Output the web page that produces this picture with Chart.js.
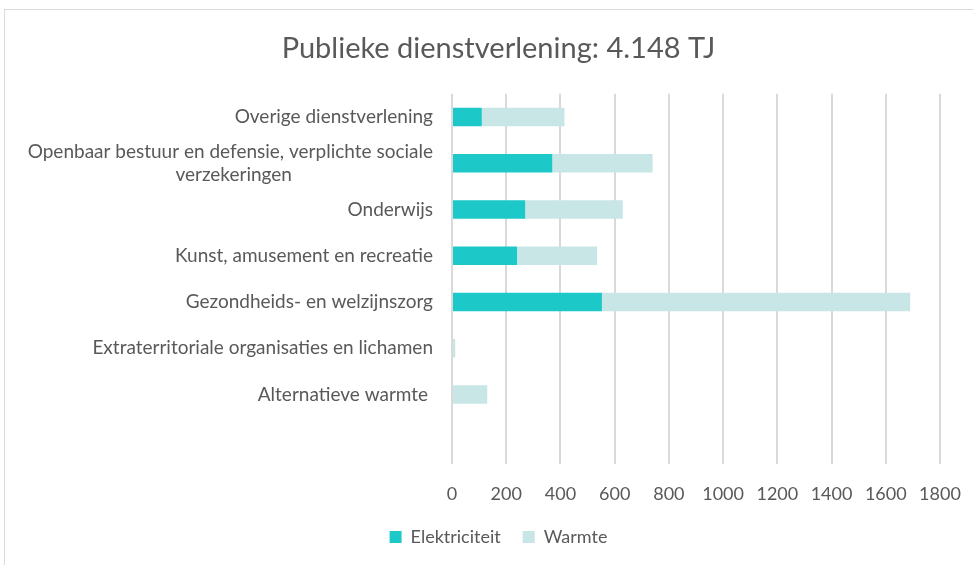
<!DOCTYPE html>
<html>
<head>
    <meta charset="utf-8">
    <title>Publieke dienstverlening</title>
    <script src="https://cdn.jsdelivr.net/npm/chart.js"></script>
    <style>
        html, body { margin: 0; padding: 0; background: #fff; }
        #frame {
            position: absolute; left: 4px; top: 9px; width: 990px; height: 600px;
            border: 1px solid #d9d9d9; box-sizing: border-box;
        }
        #wrap { position: absolute; left: 0; top: 0; width: 973px; height: 565px; }
    </style>
</head>
<body>
<div id="frame"></div>
<div id="wrap"><canvas id="canvas"></canvas></div>
<script>
    var sectoren = [
        "Overige dienstverlening",
        ["Openbaar bestuur en defensie, verplichte sociale", "verzekeringen"],
        "Onderwijs",
        "Kunst, amusement en recreatie",
        "Gezondheids- en welzijnszorg",
        "Extraterritoriale organisaties en lichamen",
        "Alternatieve warmte ",
        ""
    ];
    var elektriciteit = [110, 370, 270, 240, 553, 0, 0, null];
    var warmte = [305, 370, 360, 295, 1137, 12, 130, null];
    var xTicks = [0, 200, 400, 600, 800, 1000, 1200, 1400, 1600, 1800];

    var labelSize = 19;

    // Excel centres the wrapped line under the first one, pad it so right-aligned text looks centred
    var mctx = document.createElement("canvas").getContext("2d");
    mctx.font = labelSize + "px Lato";
    var labels = sectoren.map(function (l) {
        if (!Array.isArray(l)) return l;
        var w0 = mctx.measureText(l[0]).width;
        var w1 = mctx.measureText(l[1]).width;
        var s = l[1];
        while (mctx.measureText(s + "\u00a0").width <= w1 + (w0 - w1) / 2) s += "\u00a0";
        return [l[0], s];
    });

    var ctx = document.getElementById("canvas").getContext("2d");
    var chart = new Chart(ctx, {
        type: "bar",
        data: {
            labels: labels,
            datasets: [
                {
                    label: "Elektriciteit",
                    data: elektriciteit,
                    backgroundColor: "#1dc8c8",
                    categoryPercentage: 1,
                    barPercentage: 0.4
                },
                {
                    label: "Warmte",
                    data: warmte,
                    backgroundColor: "#c8e6e6",
                    categoryPercentage: 1,
                    barPercentage: 0.4
                }
            ]
        },
        options: {
            indexAxis: "y",
            responsive: true,
            maintainAspectRatio: false,
            animation: false,
            // negative right padding so title + legend are centred like in Excel, plot edge is set by the x scale
            layout: { padding: { left: 0, right: -24, top: 31, bottom: 9 } },
            plugins: {
                title: {
                    display: true,
                    text: "Publieke dienstverlening: 4.148 TJ",
                    color: "#595959",
                    font: { family: "Lato", size: 29, weight: "normal" },
                    padding: { top: 0, bottom: 28 }
                },
                legend: {
                    position: "bottom",
                    labels: {
                        color: "#595959",
                        font: { family: "Lato", size: 18 },
                        boxWidth: 12,
                        boxHeight: 12,
                        padding: 22
                    }
                },
                tooltip: { enabled: false }
            },
            scales: {
                x: {
                    stacked: true,
                    min: 0,
                    max: 1800,
                    afterBuildTicks: function (scale) {
                        scale.ticks = xTicks.map(function (v) { return { value: v }; });
                    },
                    afterFit: function (scale) {
                        scale.height = 42;
                        scale.paddingLeft = 0;
                        scale.paddingRight = 33;
                    },
                    grid: { color: "#d9d9d9", lineWidth: 2, drawTicks: false },
                    border: { display: false },
                    ticks: {
                        color: "#595959",
                        font: { family: "Lato", size: 18 },
                        padding: 19,
                        callback: function (v) { return String(v); }
                    }
                },
                y: {
                    stacked: true,
                    afterFit: function (scale) { scale.width = 452; },
                    grid: { display: false },
                    border: { display: false },
                    ticks: {
                        color: "#595959",
                        font: { family: "Lato", size: labelSize },
                        padding: 11,
                        autoSkip: false
                    }
                }
            }
        }
    });
</script>
</body>
</html>
